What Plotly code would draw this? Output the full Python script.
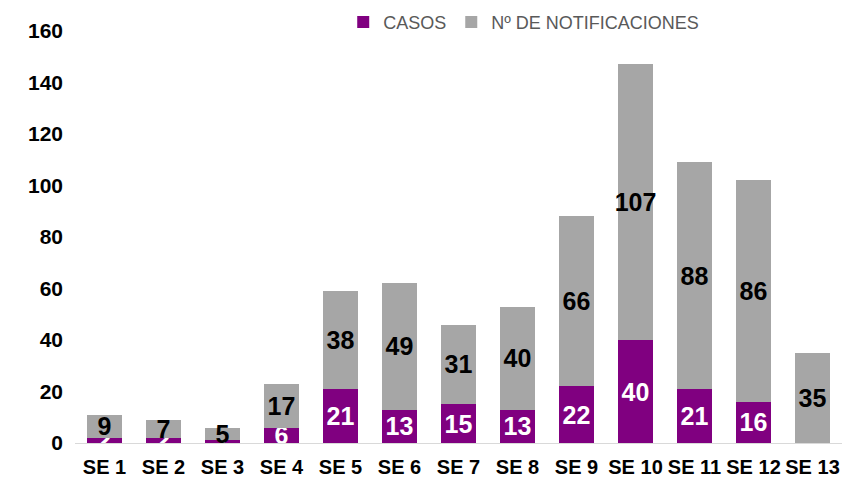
import plotly.graph_objects as go

categories = ["SE 1", "SE 2", "SE 3", "SE 4", "SE 5", "SE 6", "SE 7", "SE 8", "SE 9", "SE 10", "SE 11", "SE 12", "SE 13"]
casos = [2, 2, 1, 6, 21, 13, 15, 13, 22, 40, 21, 16, 0]
notificaciones = [9, 7, 5, 17, 38, 49, 31, 40, 66, 107, 88, 86, 35]

FONT = "Liberation Sans"

fig = go.Figure()
fig.add_trace(go.Bar(
    x=categories, y=casos, name="CASOS",
    marker=dict(color="#800080", line=dict(width=0)),
    text=[str(v) for v in casos], textposition="inside", insidetextanchor="middle",
    textangle=0, cliponaxis=False,
    textfont=dict(family=FONT, size=25, color="white", weight="bold"),
))
fig.add_trace(go.Bar(
    x=categories, y=notificaciones, name="Nº DE NOTIFICACIONES",
    marker=dict(color="#A6A6A6", line=dict(width=0)),
    text=[str(v) for v in notificaciones], textposition="inside", insidetextanchor="middle",
    textangle=0, cliponaxis=False,
    textfont=dict(family=FONT, size=22, color="black", weight="bold"),
))

fig.update_layout(
    barmode="stack",
    bargap=0.42,
    width=842, height=485,
    margin=dict(l=75, r=0, t=31, b=42, autoexpand=False),
    plot_bgcolor="white", paper_bgcolor="white",
    uniformtext=dict(mode="show", minsize=25),
    legend=dict(orientation="h", x=0.622, xanchor="center", xref="container",
                y=0.992, yanchor="top", yref="container",
                font=dict(family=FONT, size=18, color="#595959"),
                traceorder="normal"),
    xaxis=dict(showgrid=False, showline=True, linecolor="#D9D9D9", linewidth=1,
               tickfont=dict(family=FONT, size=20, color="black", weight="bold"),
               ticks="", ticklabelstandoff=6),
    yaxis=dict(range=[0, 160], dtick=20, showgrid=False, zeroline=False, showline=False,
               tickfont=dict(family=FONT, size=21, color="black", weight="bold"),
               ticks="", ticklabelstandoff=11),
)

fig.write_html("out.html", config={"displayModeBar": False},
               post_script="document.body.style.margin='0';")
